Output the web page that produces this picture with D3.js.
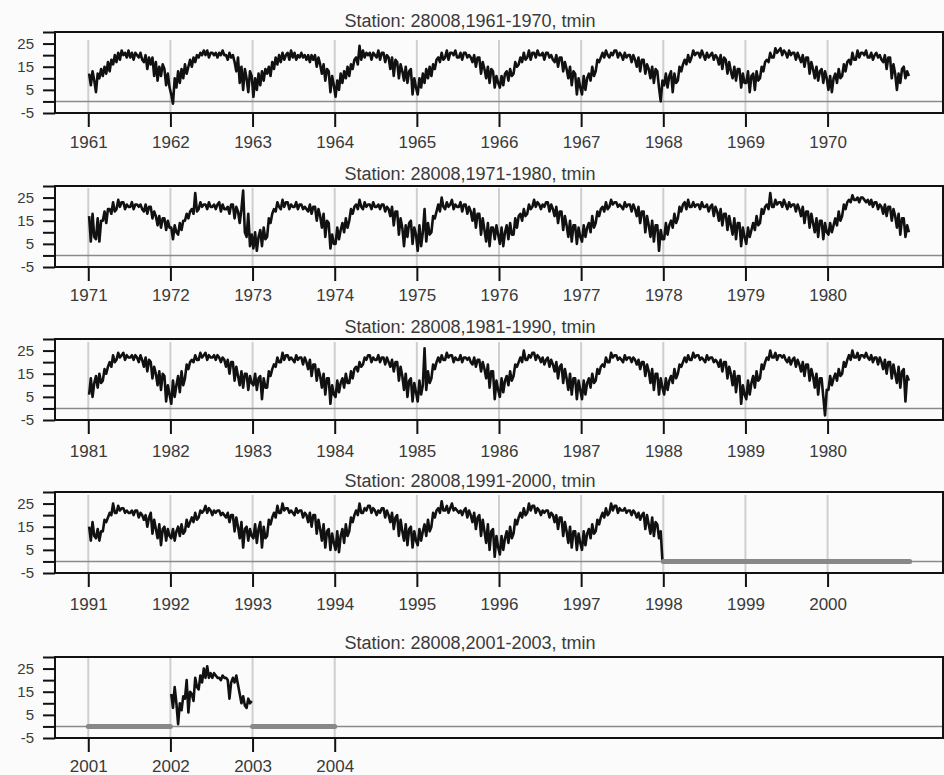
<!DOCTYPE html>
<html><head><meta charset="utf-8">
<script src="https://cdn.jsdelivr.net/npm/d3@7"></script>
<style>
html,body{margin:0;padding:0;background:#fbfbfb;}
svg{display:block;}
</style></head><body><svg id="chart" width="944" height="775"></svg>
<script>
// ---------- data ----------
const panelStarts = [1961, 1971, 1981, 1991, 2001];
const titles = [
  "Station: 28008,1961-1970, tmin",
  "Station: 28008,1971-1980, tmin",
  "Station: 28008,1981-1990, tmin",
  "Station: 28008,1991-2000, tmin",
  "Station: 28008,2001-2003, tmin"
];
const tickYears = [
  [1961,1962,1963,1964,1965,1966,1967,1968,1969,1970],
  [1971,1972,1973,1974,1975,1976,1977,1978,1979,1980],
  [1981,1982,1983,1984,1985,1986,1987,1988,1989,1990],
  [1991,1992,1993,1994,1995,1996,1997,1998,1999,2000],
  [2001,2002,2003,2004]
];
const tickLabels = [
  ["1961","1962","1963","1964","1965","1966","1967","1968","1969","1970"],
  ["1971","1972","1973","1974","1975","1976","1977","1978","1979","1980"],
  ["1981","1982","1983","1984","1985","1986","1987","1988","1989","1980"],
  ["1991","1992","1993","1994","1995","1996","1997","1998","1999","2000"],
  ["2001","2002","2003","2004"]
];
const yTicks = [-5, 0, 5, 10, 15, 20, 25, 30];
const yTickLabels = ["-5", "", "5", "", "15", "", "25", ""];

// daily minimum temperature, read about once a week (4 per month), one row per year
const tmin1961_1970 = [
  [12,7,13,9, 4,12,10,14, 11,15,12,17, 13,18,16,20, 17,21,18,22, 20,21,19,22, 19,21,18,21, 20,19,21,18, 17,20,14,19, 16,19,11,17, 9,15,11,16, 14,7,12,6],
  [3,-1,10,6, 13,8,14,10, 16,12,15,18, 15,19,17,20, 19,21,20,22, 20,22,19,21, 21,20,21,19, 21,20,22,20, 20,18,21,19, 20,17,13,19, 8,15,5,14, 10,4,13,11],
  [2,10,5,12, 7,13,9,14, 12,15,11,17, 14,19,16,20, 17,21,18,20, 21,18,22,19, 21,18,20,19, 21,19,20,18, 20,17,20,18, 20,15,19,16, 12,16,9,14, 13,4,11,7],
  [2,9,5,12, 8,13,10,15, 11,16,14,18, 19,16,24,18, 22,19,21,20, 21,18,21,20, 19,22,18,21, 21,17,20,19, 14,19,11,18, 17,10,16,13, 9,15,8,13, 14,3,10,6],
  [3,10,6,12, 8,14,10,15, 11,16,14,18, 19,17,21,18, 19,22,18,21, 21,20,22,19, 19,21,18,21, 21,19,20,19, 17,20,15,19, 19,12,17,14, 10,15,8,14, 13,6,11,8],
  [6,11,7,12, 13,9,14,11, 12,17,15,16, 19,17,21,18, 19,22,18,21, 21,19,22,20, 20,21,18,21, 21,19,20,18, 17,20,15,19, 19,13,17,14, 10,15,7,13, 12,3,10,6],
  [3,11,5,10, 12,9,15,11, 13,18,17,19, 21,19,22,20, 19,21,20,22, 22,19,21,20, 18,21,19,20, 20,17,20,18, 15,19,13,18, 18,12,16,14, 10,15,8,14, 13,6,0,9],
  [7,12,6,11, 13,4,12,8, 9,15,13,16, 18,16,20,17, 19,22,20,21, 21,19,22,20, 18,21,19,20, 21,18,20,19, 16,20,14,19, 18,12,17,13, 10,15,9,14, 14,6,12,8],
  [8,13,4,11, 12,5,13,9, 10,15,13,17, 18,17,21,19, 19,23,21,22, 23,20,22,21, 19,22,20,21, 21,18,21,19, 17,20,15,19, 19,12,17,14, 10,15,9,13, 14,8,13,10],
  [5,11,4,10, 12,8,14,10, 11,16,13,17, 18,16,21,18, 18,22,19,21, 21,20,22,19, 19,21,18,20, 21,19,20,18, 17,20,14,19, 19,10,16,12, 5,12,8,14, 15,10,13,11]
];
const tmin1971_1980 = [
  [17,6,18,8, 7,16,6,15, 15,19,14,20, 20,18,23,19, 20,24,21,23, 23,20,22,21, 21,23,20,22, 22,21,22,20, 19,22,18,21, 21,16,19,17, 13,17,12,16, 16,11,15,12],
  [12,7,13,10, 9,14,11,15, 15,18,16,19, 20,18,27,19, 20,23,21,22, 22,20,23,21, 21,22,20,22, 23,19,22,20, 20,21,18,22, 22,16,21,19, 14,20,28,10, 8,18,4,9],
  [3,10,2,8, 11,4,12,7, 8,16,14,18, 20,19,23,21, 20,24,21,23, 23,20,22,21, 21,23,20,22, 22,20,21,20, 19,22,18,21, 21,15,20,17, 12,18,8,15, 14,3,9,5],
  [5,12,7,11, 14,10,16,12, 15,20,18,21, 22,20,24,21, 20,23,21,22, 22,20,23,21, 21,22,20,22, 22,19,21,20, 17,21,13,19, 19,9,16,12, 4,13,8,14, 15,5,12,9],
  [2,13,4,10, 20,6,14,9, 10,17,16,19, 22,19,25,21, 20,23,21,22, 24,20,22,21, 21,23,19,22, 22,18,21,19, 15,20,12,18, 18,9,16,11, 6,14,4,12, 12,7,13,9],
  [5,12,4,10, 13,7,14,9, 9,16,12,17, 18,15,20,17, 18,22,20,21, 24,21,23,22, 20,22,21,23, 23,19,22,20, 17,21,14,19, 19,11,17,13, 8,15,6,13, 13,5,12,8],
  [6,13,8,12, 14,10,17,12, 14,19,17,20, 21,19,23,20, 21,24,22,23, 23,21,22,21, 20,23,21,22, 22,19,22,20, 17,21,14,19, 19,10,17,13, 8,15,6,13, 13,2,11,7],
  [7,14,9,13, 15,12,18,14, 16,21,19,22, 23,20,24,21, 21,23,21,22, 22,20,23,21, 21,22,19,21, 22,17,21,19, 15,20,13,18, 18,11,17,13, 9,16,7,14, 14,4,12,8],
  [5,12,8,11, 14,11,17,13, 14,20,18,21, 22,20,27,21, 21,24,22,23, 23,21,24,22, 20,23,21,22, 22,19,22,20, 17,21,14,19, 19,12,18,14, 10,16,8,15, 15,7,14,10],
  [9,14,10,13, 16,13,19,15, 17,22,20,23, 24,23,26,24, 24,25,23,25, 25,24,23,24, 22,24,21,23, 23,20,22,21, 18,22,17,21, 21,15,20,17, 12,18,9,16, 16,8,13,10]
];
const tmin1981_1990 = [
  [6,13,5,11, 14,9,15,11, 12,17,15,18, 20,18,23,20, 21,24,22,23, 24,21,23,22, 22,23,21,23, 22,20,23,21, 18,22,16,21, 20,13,18,15, 10,16,8,15, 14,3,10,6],
  [2,12,5,10, 14,7,16,10, 13,19,17,20, 21,20,23,21, 21,24,22,23, 24,21,23,22, 22,23,21,23, 22,20,22,21, 18,21,15,20, 20,12,18,14, 10,16,9,15, 15,8,14,11],
  [10,15,8,13, 14,4,13,9, 9,16,14,17, 19,18,22,20, 20,24,21,23, 23,21,22,21, 20,23,21,22, 22,19,22,20, 17,21,14,19, 19,12,17,14, 9,15,6,13, 13,2,10,6],
  [5,12,7,11, 13,9,15,11, 11,16,13,17, 18,16,20,18, 19,22,21,23, 23,20,22,21, 21,23,20,22, 22,19,22,20, 18,21,16,20, 20,12,18,14, 8,15,5,12, 13,3,11,7],
  [3,12,6,10, 26,8,16,11, 13,19,17,20, 22,20,23,21, 21,24,22,23, 23,20,22,21, 21,23,20,22, 22,21,22,20, 19,22,18,21, 21,16,20,17, 13,19,9,16, 16,4,12,8],
  [5,13,7,12, 14,10,16,12, 14,19,18,20, 22,20,25,21, 21,23,22,24, 24,21,23,22, 20,22,19,21, 22,18,21,19, 16,20,13,18, 19,11,17,13, 8,15,6,13, 13,4,12,8],
  [4,12,6,11, 13,9,15,11, 12,17,15,18, 19,18,22,20, 20,24,22,23, 23,21,22,21, 20,23,21,22, 22,20,22,21, 19,21,17,20, 20,14,19,16, 11,17,8,15, 15,6,13,9],
  [6,13,8,12, 14,11,17,13, 15,19,18,20, 22,20,23,21, 21,24,22,23, 23,21,22,21, 20,23,21,22, 22,20,21,20, 18,21,16,20, 20,13,18,15, 10,16,7,14, 14,2,10,6],
  [4,12,6,11, 14,9,16,12, 13,19,17,20, 22,21,25,22, 22,24,21,23, 23,22,23,21, 20,22,19,21, 22,18,21,19, 16,20,14,19, 19,12,17,14, 9,15,6,13, 13,5,-3,8],
  [8,14,10,13, 15,12,17,14, 15,20,18,21, 23,21,25,22, 22,24,21,23, 23,22,24,22, 21,23,20,22, 22,19,22,20, 17,21,15,20, 20,13,19,15, 11,18,9,16, 17,3,14,12]
];
const tmin1991_2000 = [
  [15,9,17,11, 10,14,9,13, 13,18,17,19, 21,20,25,21, 21,24,22,23, 23,21,22,21, 21,22,20,22, 22,19,21,20, 18,20,15,19, 21,12,18,14, 10,16,7,14, 15,9,14,11],
  [10,14,9,13, 15,11,16,12, 13,18,15,17, 19,17,21,18, 19,22,21,22, 24,21,23,22, 20,22,21,22, 22,20,21,20, 19,21,17,20, 20,13,19,15, 10,17,6,14, 15,9,14,11],
  [10,16,8,14, 17,6,15,10, 11,18,16,19, 21,19,24,21, 21,25,22,23, 23,21,22,21, 20,23,21,22, 22,19,21,20, 17,21,15,20, 20,12,18,14, 9,16,6,13, 14,5,12,8],
  [5,13,4,11, 14,8,16,11, 13,19,17,20, 22,20,25,21, 21,23,22,24, 24,21,23,22, 20,22,21,23, 23,19,22,20, 17,21,14,19, 20,11,18,13, 9,16,7,14, 15,6,13,9],
  [7,14,9,13, 16,11,18,13, 15,21,19,22, 23,21,26,22, 22,24,21,23, 25,22,23,22, 21,22,20,22, 23,19,22,20, 17,21,14,19, 20,11,18,13, 8,16,5,13, 14,2,11,6],
  [3,11,5,10, 13,8,15,10, 12,18,16,19, 21,19,23,20, 21,25,22,24, 24,21,23,22, 20,22,21,22, 22,19,21,20, 17,20,14,19, 19,11,17,13, 8,15,6,13, 13,5,12,8],
  [5,13,7,12, 14,10,16,12, 13,18,16,19, 21,19,23,20, 21,25,22,24, 24,21,23,22, 22,23,21,22, 22,20,22,21, 19,21,18,20, 21,14,20,16, 12,19,11,17, 16,10,13,0],
  null, null, null
];
const tmin2001_2003 = [
  null,
  [14,8,17,10, 1,10,7,13, 12,20,6,15, 14,11,21,17, 16,22,19,25, 21,26,21,23, 21,23,22,21, 21,20,22,21, 21,20,12,19, 21,19,22,18, 14,10,13,9, 8,12,10,11],
  null
];
// missing-data spans (plotted as 0)
const gaps1961_1970 = [];
const gaps1971_1980 = [];
const gaps1981_1990 = [];
const gaps1991_2000 = [[1998, 2001]];
const gaps2001_2003 = [[2001, 2002], [2003, 2004]];

// ---------- layout ----------
const series = [tmin1961_1970, tmin1971_1980, tmin1981_1990, tmin1991_2000, tmin2001_2003];
const gaps = [gaps1961_1970, gaps1971_1980, gaps1981_1990, gaps1991_2000, gaps2001_2003];
const L = {
  left: 55, right: 943, h: 81,
  tops: [32, 186, 339, 492, 657],
  titleY: [26.5, 180, 333, 486.5, 649],
  labelY: [35.3, 33.5, 37.3, 37, 33.5],
  gridTop: [8, 2, 3, 3, 1]
};
const FONT = "'Liberation Sans', Arial, sans-serif";
const svg = d3.select("#chart");

svg.append("defs").selectAll("clipPath").data(L.tops).join("clipPath")
  .attr("id", (d, i) => "clip" + i)
  .append("rect").attr("x", L.left).attr("y", d => d).attr("width", L.right - L.left).attr("height", L.h);

series.forEach((yearsData, p) => {
  const start = panelStarts[p];
  const top = L.tops[p], bottom = top + L.h;
  const x = d3.scaleLinear().domain([start - 0.405, start + 10.405]).range([L.left, L.right]);
  const y = d3.scaleLinear().domain([-5, 30]).range([bottom, top]);
  const g = svg.append("g");

  // title
  g.append("text").attr("x", 470).attr("y", L.titleY[p]).attr("text-anchor", "middle")
    .attr("font-family", FONT).attr("font-size", 18).attr("fill", "#3a3a3a").text(titles[p]);

  // vertical year grid
  g.append("g").selectAll("line").data(tickYears[p]).join("line")
    .attr("x1", d => x(d)).attr("x2", d => x(d))
    .attr("y1", top + L.gridTop[p]).attr("y2", bottom)
    .attr("stroke", "#cfcfcf").attr("stroke-width", 2);

  // zero line
  g.append("line").attr("x1", L.left).attr("x2", L.right).attr("y1", y(0)).attr("y2", y(0))
    .attr("stroke", "#8a8a8a").attr("stroke-width", 1.5);

  // data
  const pts = [];
  yearsData.forEach((vals, i) => {
    if (!vals) return;
    vals.forEach((v, j) => pts.push({ t: start + i + (j + 0.5) / vals.length, v }));
  });
  const line = d3.line().x(d => x(d.t)).y(d => y(d.v));
  g.append("path").datum(pts).attr("d", line).attr("fill", "none")
    .attr("stroke", "#111").attr("stroke-width", 2.6).attr("stroke-linejoin", "round")
    .attr("clip-path", `url(#clip${p})`);

  // missing spans
  g.append("g").selectAll("line").data(gaps[p]).join("line")
    .attr("x1", d => x(d[0])).attr("x2", d => x(d[1]))
    .attr("y1", y(0)).attr("y2", y(0))
    .attr("stroke", "#888").attr("stroke-width", 5).attr("stroke-linecap", "round");

  // frame
  g.append("rect").attr("x", L.left).attr("y", top).attr("width", L.right - L.left).attr("height", L.h)
    .attr("fill", "none").attr("stroke", "#111").attr("stroke-width", 2);

  // y axis
  const ya = g.append("g").attr("transform", `translate(${L.left},0)`)
    .call(d3.axisLeft(y).tickValues(yTicks).tickSize(12).tickPadding(9)
      .tickFormat((d, i) => yTickLabels[i]));
  ya.select(".domain").remove();
  ya.selectAll(".tick line").attr("stroke", "#111").attr("stroke-width", 2);
  ya.selectAll(".tick text").attr("font-family", FONT).attr("font-size", 15).attr("fill", "#3a3a3a");

  // x axis
  const xa = g.append("g").attr("transform", `translate(0,${bottom})`)
    .call(d3.axisBottom(x).tickValues(tickYears[p]).tickSize(14)
      .tickFormat((d, i) => tickLabels[p][i]));
  xa.select(".domain").remove();
  xa.selectAll(".tick line").attr("stroke", "#111").attr("stroke-width", 2);
  xa.selectAll(".tick text").attr("font-family", FONT).attr("font-size", 17).attr("fill", "#3a3a3a")
    .attr("y", L.labelY[p]).attr("dy", 0);
});
</script></body></html>
